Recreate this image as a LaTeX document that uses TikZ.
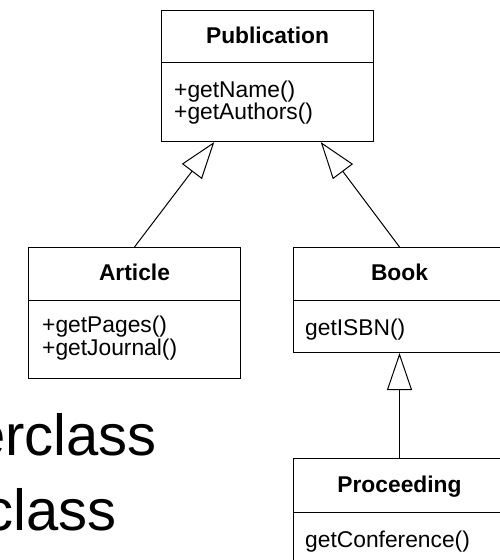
\documentclass[tikz,border=0pt]{standalone}
\usepackage{fontspec}
\setmainfont{Liberation Sans}
\usetikzlibrary{arrows.meta,calc}
\begin{document}
\begin{tikzpicture}[x=1pt,y=-1pt,
  classbox/.style={draw=black,line width=1pt,minimum width=212pt,inner sep=0pt,anchor=north west},
  title/.style={font=\fontsize{22.8}{22.8}\selectfont\bfseries,anchor=base,inner sep=0pt},
  meth/.style={font=\fontsize{22.8}{22.8}\selectfont,anchor=base west,inner sep=0pt},
  big/.style={font=\fontsize{58}{58}\selectfont,anchor=base east,inner sep=0pt},
  gen/.style={draw=black,line width=1pt,-{Triangle[open,length=37pt,width=25pt]}},
  divider/.style={draw=black,line width=1pt}]
\useasboundingbox (0,0) rectangle (499,560);
% Publication
\node[classbox,minimum height=131.5pt] (pub) at (161,9.5) {};
\draw[divider] ($(pub.north west)+(0,52.5)$) -- ($(pub.north east)+(0,52.5)$);
\node[title] (pubT) at ($(pub.north)+(0,33.5)$) {Publication};
\node[meth] (pubM1) at ($(pub.north west)+(13,87.5)$) {+getName()};
\node[meth] (pubM2) at ($(pub.north west)+(13,109.5)$) {+getAuthors()};
% Article
\node[classbox,minimum height=131pt] (art) at (28,247) {};
\draw[divider] ($(art.north west)+(0,53)$) -- ($(art.north east)+(0,53)$);
\node[title] (artT) at ($(art.north)+(0,33)$) {Article};
\node[meth] (artM1) at ($(art.north west)+(14,85)$) {+getPages()};
\node[meth] (artM2) at ($(art.north west)+(14,108)$) {+getJournal()};
% Book
\node[classbox,minimum height=105pt] (book) at (293,247) {};
\draw[divider] ($(book.north west)+(0,53)$) -- ($(book.north east)+(0,53)$);
\node[title] (bookT) at ($(book.north)+(0,33)$) {Book};
\node[meth] (bookM1) at ($(book.north west)+(12,88)$) {getISBN()};
% Proceeding
\node[classbox,minimum height=105pt] (proc) at (293,458) {};
\draw[divider] ($(proc.north west)+(0,54)$) -- ($(proc.north east)+(0,54)$);
\node[title] (procT) at ($(proc.north)+(0,34)$) {Proceeding};
\node[meth] (procM1) at ($(proc.north west)+(12,89)$) {getConference()};
% connectors
\coordinate (pubL) at ($(pub.south west)!0.25!(pub.south east)$);
\coordinate (pubR) at ($(pub.south west)!0.75!(pub.south east)$);
\draw[gen] (art.north) -- (pubL);
\draw[gen] (book.north) -- (pubR);
\draw[gen] (proc.north) -- (book.south);
% slide text
\node[big] (sup) at (157,455) {erclass};
\node[big] (sub) at (117,530) {class};
\end{tikzpicture}
\end{document}
